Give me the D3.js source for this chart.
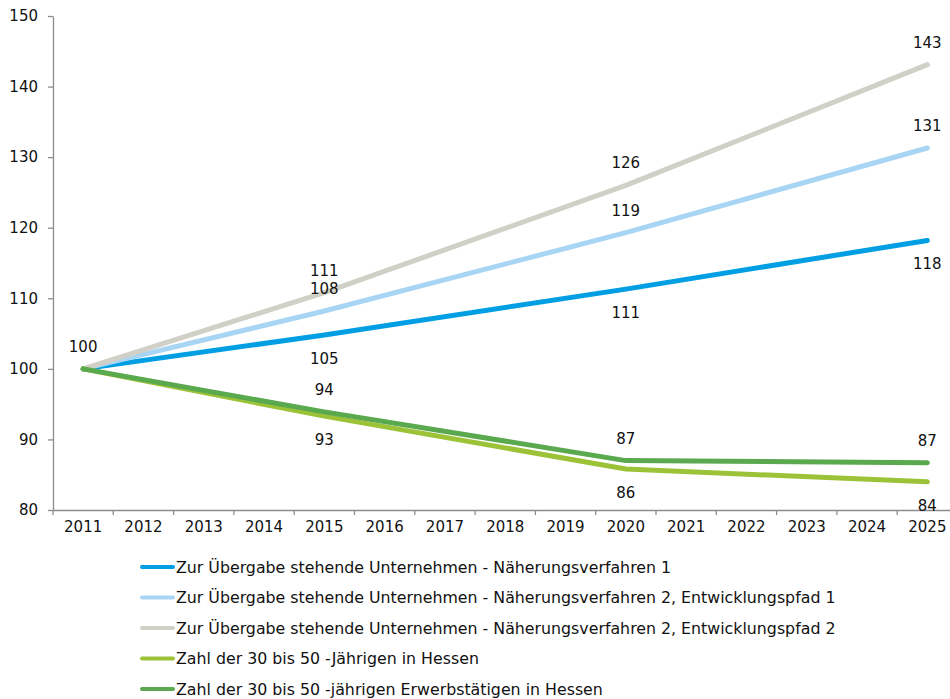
<!DOCTYPE html>
<html>
<head>
<meta charset="utf-8">
<script src="https://cdn.jsdelivr.net/npm/d3@7"></script>
<style>
  body { margin: 0; background: #fff; }
  text { font-family: "DejaVu Sans", Verdana, sans-serif; fill: #111; }
  .axis path, .axis line { stroke: #8c8c8c; stroke-width: 1.3; }
  .axis text { font-size: 15px; }
  .val { font-size: 15px; }
  .legend text { font-size: 15.8px; }
</style>
</head>
<body>
<svg id="chart"></svg>
<script>
// chart size
const width = 950;
const height = 699;

// categories (x axis)
const years = ["2011", "2012", "2013", "2014", "2015", "2016", "2017", "2018",
  "2019", "2020", "2021", "2022", "2023", "2024", "2025"];

// years that carry a data point
const pointYears = ["2011", "2015", "2020", "2025"];

// index values per series (2011 = 100)
const naeherung1 = [100, 104.8, 111.3, 118.2];
const naeherung2pfad1 = [100, 108.2, 119.3, 131.3];
const naeherung2pfad2 = [100, 110.8, 126.0, 143.1];
const jaehrige3050 = [100, 93.3, 85.8, 84.0];
const erwerbstaetige3050 = [100, 93.9, 87.0, 86.7];

const seriesNames = [
  "Zur Übergabe stehende Unternehmen - Näherungsverfahren 1",
  "Zur Übergabe stehende Unternehmen - Näherungsverfahren 2, Entwicklungspfad 1",
  "Zur Übergabe stehende Unternehmen - Näherungsverfahren 2, Entwicklungspfad 2",
  "Zahl der 30 bis 50 -Jährigen in Hessen",
  "Zahl der 30 bis 50 -jährigen Erwerbstätigen in Hessen"
];

const yTicks = [80, 90, 100, 110, 120, 130, 140, 150];

const colors = ["#009fe3", "#a9d5f5", "#d0d0c6", "#9cc238", "#5aa94f"];

// label placement per series and point: -1 above, +1 below, 0 none
const labelSide = [
  [0, 1, 1, 1],
  [0, -1, -1, -1],
  [-1, -1, -1, -1],
  [0, 1, 1, 1],
  [0, -1, -1, -1]
];

const series = [naeherung1, naeherung2pfad1, naeherung2pfad2, jaehrige3050, erwerbstaetige3050]
  .map((vals, i) => ({
    name: seriesNames[i],
    color: colors[i],
    points: vals.map((v, j) => ({ year: pointYears[j], value: v, side: labelSide[i][j] }))
  }));

const margin = { top: 16, left: 53, bottom: 189 };

const svg = d3.select("#chart")
  .attr("width", width)
  .attr("height", height);

// categories are 60.3px wide; the last one runs past the right edge
const x = d3.scaleBand()
  .domain(years)
  .range([margin.left, margin.left + 15 * 60.3]);

const y = d3.scaleLinear()
  .domain([80, 150])
  .range([height - margin.bottom, margin.top]);

const cx = d => x(d) + x.bandwidth() / 2;

// axes
const xAxis = d3.axisBottom(x).tickSize(0).tickSizeOuter(0).tickPadding(11);
const xg = svg.append("g")
  .attr("class", "axis")
  .attr("transform", translate(0, y(80)))
  .call(xAxis);

// category separators
xg.selectAll("line.sep")
  .data(years.concat(["end"]))
  .enter()
  .append("line")
  .attr("class", "sep")
  .attr("x1", (d, i) => margin.left + i * x.step())
  .attr("x2", (d, i) => margin.left + i * x.step())
  .attr("y1", 0)
  .attr("y2", 5);

const yAxis = d3.axisLeft(y).tickValues(yTicks).tickSize(5).tickSizeOuter(0).tickPadding(10);
svg.append("g")
  .attr("class", "axis")
  .attr("transform", translate(margin.left, 0))
  .call(yAxis);

// lines
const line = d3.line()
  .x(d => cx(d.year))
  .y(d => y(d.value));

svg.append("g")
  .selectAll("path")
  .data(series)
  .enter()
  .append("path")
  .attr("d", d => line(d.points))
  .attr("fill", "none")
  .attr("stroke", d => d.color)
  .attr("stroke-width", 5)
  .attr("stroke-linecap", "round")
  .attr("stroke-linejoin", "round");

// value labels
const labels = [];
series.forEach(s => s.points.forEach(p => { if (p.side != 0) labels.push(p); }));

svg.append("g")
  .selectAll("text")
  .data(labels)
  .enter()
  .append("text")
  .attr("class", "val")
  .attr("x", d => cx(d.year))
  .attr("y", d => y(d.value) + (d.side < 0 ? -22 : 24))
  .attr("text-anchor", "middle")
  .attr("dominant-baseline", "central")
  .text(d => Math.round(d.value));

// legend
const legend = svg.append("g")
  .attr("class", "legend")
  .attr("transform", translate(142, 567));

const items = legend.selectAll("g")
  .data(series)
  .enter()
  .append("g")
  .attr("transform", (d, i) => translate(0, i * 30.5));

items.append("line")
  .attr("x1", 0)
  .attr("x2", 31)
  .attr("stroke", d => d.color)
  .attr("stroke-width", 4)
  .attr("stroke-linecap", "round");

items.append("text")
  .attr("x", 34)
  .attr("dominant-baseline", "central")
  .text(d => d.name);

function translate(a, b) {
  return "translate(" + a + "," + b + ")";
}
</script>
</body>
</html>
